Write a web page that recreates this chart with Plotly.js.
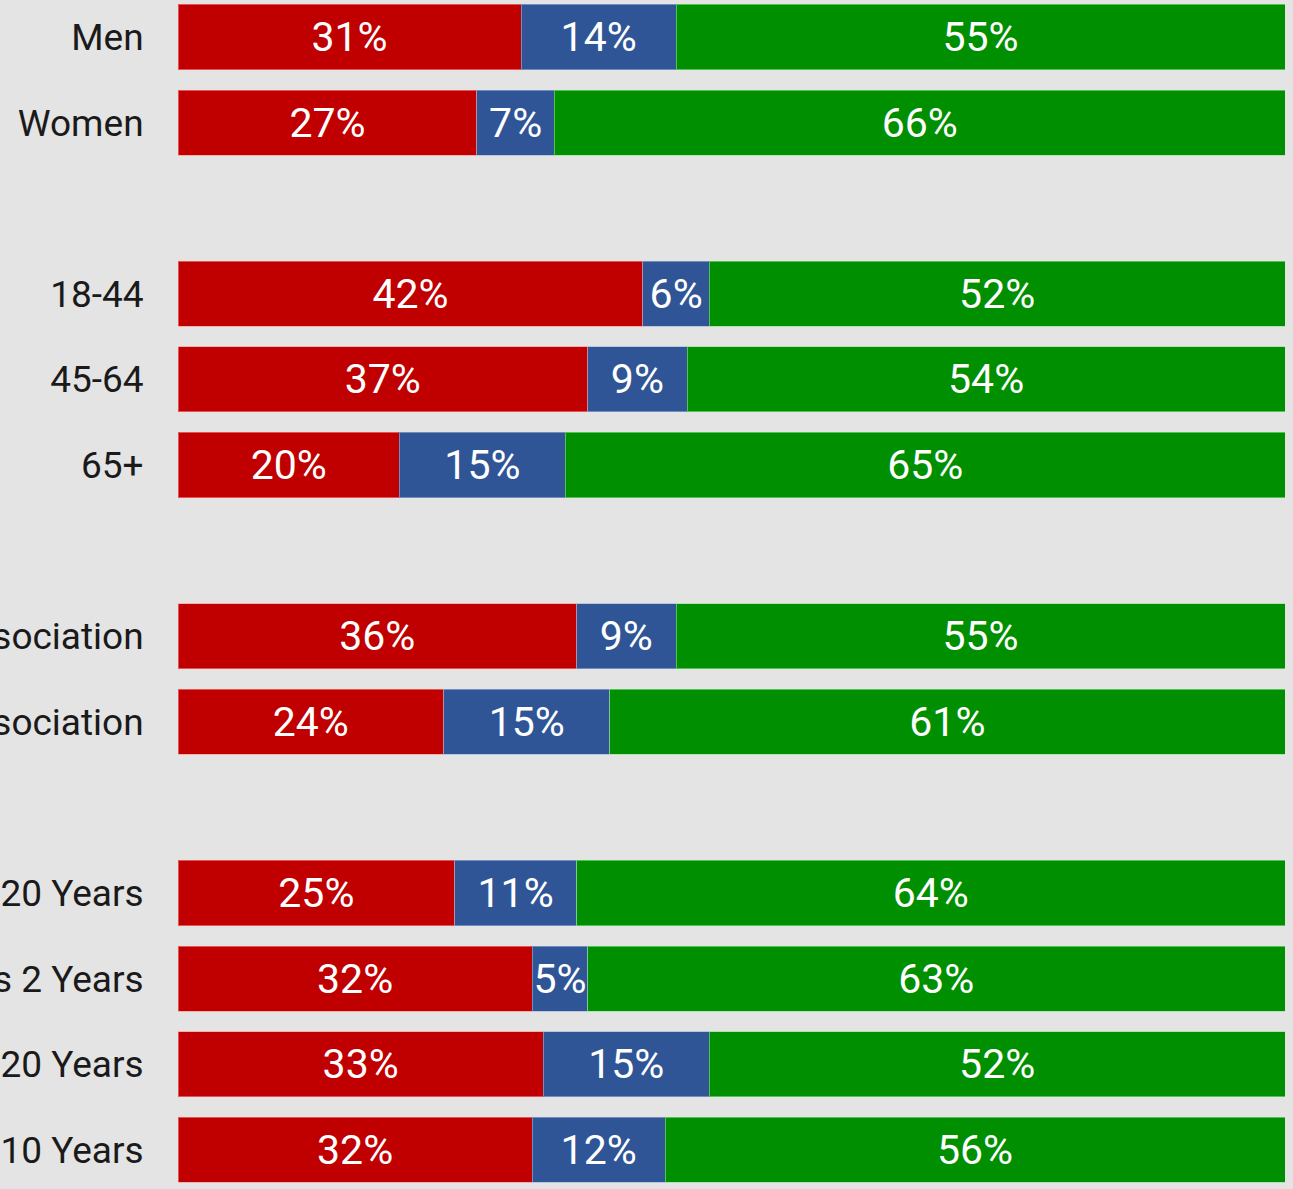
<!DOCTYPE html>
<html>
<head>
<meta charset="utf-8">
<script src="https://cdn.plot.ly/plotly-3.0.1.min.js"></script>
<style>
html,body{margin:0;padding:0;background:#e4e4e4;}
#chart{width:1293px;height:1189px;}
</style>
</head>
<body>
<div id="chart"></div>
<script>
// Categories (blank entries are group spacers)
const categories = [
  "Men", "Women", " ",
  "18-44", "45-64", "65+", "  ",
  "Member of Association", "No Association", "   ",
  "Over 20 Years", "Previous 2 Years", "Less than 20 Years", "More than 10 Years"
];
const redValues   = [31, 27, null, 42, 37, 20, null, 36, 24, null, 25, 32, 33, 32];
const blueValues  = [14,  7, null,  6,  9, 15, null,  9, 15, null, 11,  5, 15, 12];
const greenValues = [55, 66, null, 52, 54, 65, null, 55, 61, null, 64, 63, 52, 56];

const pct = arr => arr.map(v => v == null ? "" : v + "%");

function mk(vals, color, lineColor) {
  return {
    type: "bar", orientation: "h",
    y: categories, x: vals,
    text: pct(vals),
    textposition: "inside",
    insidetextanchor: "middle",
    constraintext: "none",
    textangle: 0,
    textfont: {family: "Roboto", size: 41, color: "#ffffff"},
    marker: {color: color, line: {color: lineColor, width: 1}},
    hoverinfo: "skip",
    width: 0.76
  };
}

const data = [
  mk(redValues, "#c00000", "rgba(255,140,140,0.6)"),
  mk(blueValues, "#2f5597", "rgba(160,180,220,0.6)"),
  mk(greenValues, "#008f00", "rgba(140,230,140,0.6)")
];

const layout = {
  width: 1293, height: 1189,
  margin: {l: 178, r: 8, t: 0, b: 0, pad: 0},
  barmode: "stack",
  showlegend: false,
  paper_bgcolor: "#e4e4e4",
  plot_bgcolor: "rgba(0,0,0,0)",
  font: {family: "Roboto", color: "#1a1a1a"},
  xaxis: {range: [0, 100], visible: false, fixedrange: true},
  yaxis: {
    type: "category",
    categoryorder: "array", categoryarray: categories,
    range: [13.458, -0.432],
    showgrid: false, zeroline: false, showline: false,
    ticks: "outside", ticklen: 26, tickcolor: "rgba(0,0,0,0)",
    tickfont: {family: "Roboto", size: 37, color: "#1a1a1a"},
    automargin: false, fixedrange: true
  }
};

Plotly.newPlot("chart", data, layout, {displayModeBar: false, staticPlot: true});
</script>
</body>
</html>
